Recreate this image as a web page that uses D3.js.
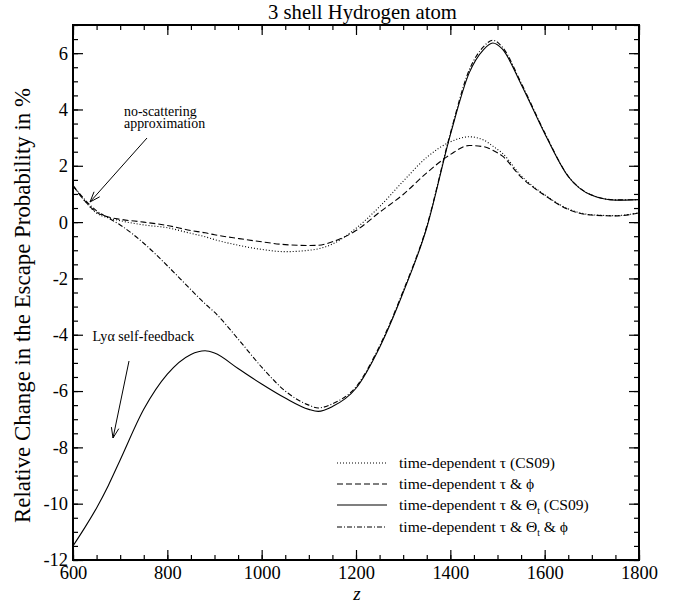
<!DOCTYPE html>
<html><head><meta charset="utf-8">
<script src="https://cdn.jsdelivr.net/npm/d3@7"></script>
<style>body{margin:0;background:#fff}</style>
</head><body>
<svg id="c" width="683" height="607"></svg>
<script>
const zGrid = [600,625,650,675,700,750,800,850,880,900,950,1000,1050,1100,1120,1150,1200,1250,1300,1350,1400,1440,1470,1490,1510,1550,1600,1650,1700,1750,1800];
const tauCS09 =      [1.3,0.75,0.32,0.15,0.05,-0.1,-0.2,-0.4,-0.52,-0.62,-0.82,-0.97,-1.05,-1.0,-0.95,-0.78,-0.22,0.55,1.45,2.3,2.85,3.03,2.92,2.7,2.45,1.65,0.97,0.47,0.26,0.23,0.33];
const tauPhi =       [1.3,0.75,0.35,0.18,0.1,0.0,-0.12,-0.3,-0.38,-0.45,-0.58,-0.7,-0.8,-0.83,-0.82,-0.7,-0.3,0.35,0.98,1.75,2.4,2.72,2.68,2.55,2.35,1.6,0.95,0.45,0.25,0.22,0.33];
const tauTheta =     [-11.5,-10.85,-10.15,-9.35,-8.45,-6.65,-5.4,-4.7,-4.57,-4.65,-5.2,-5.75,-6.25,-6.65,-6.72,-6.55,-5.9,-4.45,-2.5,-0.2,3.1,5.3,6.12,6.36,6.15,4.9,3.15,1.62,0.95,0.78,0.8];
const tauThetaPhi =  [1.3,0.8,0.4,0.15,-0.1,-0.75,-1.55,-2.4,-2.9,-3.2,-4.15,-5.15,-6.0,-6.5,-6.6,-6.45,-5.85,-4.4,-2.45,-0.15,3.15,5.4,6.22,6.46,6.22,4.95,3.18,1.63,0.96,0.79,0.8];

const legendLabels = ["time-dependent τ (CS09)","time-dependent τ & ϕ","time-dependent τ & Θ|t| (CS09)","time-dependent τ & Θ|t| & ϕ"];
const dashes = ["1,2","6,3",null,"5,2,1,2"];
const xTicks = [600,800,1000,1200,1400,1600,1800];
const yTicks = [-12,-10,-8,-6,-4,-2,0,2,4,6];
const titleText = "3 shell Hydrogen atom";
const yLabelText = "Relative Change in the Escape Probability in %";
const noteScatter = ["no-scattering","approximation"];
const noteFeedback = "Lyα self-feedback";

const FONT = '"Liberation Serif","Times New Roman",serif';
const series = [tauCS09, tauPhi, tauTheta, tauThetaPhi];
const svg = d3.select("#c");
const L=73, R=639, T=25, B=560;
const x = d3.scaleLinear().domain([600,1800]).range([L,R]);
const y = d3.scaleLinear().domain([-12,7]).range([B,T]);

function fit(sel, target){
  const w = sel.node().getComputedTextLength();
  const s = parseFloat(sel.style("font-size"));
  sel.style("font-size", (s*target/w).toFixed(2)+"px");
  return s*target/w;
}

svg.append("clipPath").attr("id","cp").append("rect").attr("x",L).attr("y",T).attr("width",R-L).attr("height",B-T);
const line = d3.line().x((d,i)=>x(zGrid[i])).y(d=>y(d)).curve(d3.curveMonotoneX);
series.forEach((s,k)=>{
  svg.append("path").attr("d",line(s)).attr("fill","none").attr("stroke","#000")
    .attr("stroke-width",1.1).attr("stroke-dasharray",dashes[k]).attr("clip-path","url(#cp)");
});

const xMinor = d3.range(600,1801,50), yMinor = d3.range(-12,7.01,0.5);
const fmt = d => String(d);
function addAxis(axisGen, tf, labels){
  const g = svg.append("g").attr("transform",tf).call(axisGen);
  g.select(".domain").remove();
  g.attr("font-family",FONT).attr("font-size",null);
  if(!labels) g.selectAll("text").remove();
  return g;
}
const bottom = addAxis(d3.axisBottom(x).tickValues(xTicks).tickSize(-10).tickPadding(6).tickFormat(fmt), `translate(0,${B})`, true);
addAxis(d3.axisBottom(x).tickValues(xMinor).tickSize(-5).tickFormat(""), `translate(0,${B})`);
addAxis(d3.axisTop(x).tickValues(xTicks).tickSize(-10).tickFormat(""), `translate(0,${T})`);
addAxis(d3.axisTop(x).tickValues(xMinor).tickSize(-5).tickFormat(""), `translate(0,${T})`);
const left = addAxis(d3.axisLeft(y).tickValues(yTicks).tickSize(-10).tickPadding(5).tickFormat(fmt), `translate(${L},0)`, true);
addAxis(d3.axisLeft(y).tickValues(yMinor).tickSize(-5).tickFormat(""), `translate(${L},0)`);
addAxis(d3.axisRight(y).tickValues(yTicks).tickSize(-10).tickFormat(""), `translate(${R},0)`);
addAxis(d3.axisRight(y).tickValues(yMinor).tickSize(-5).tickFormat(""), `translate(${R},0)`);
svg.selectAll(".tick text").style("font-family",FONT).style("font-size","18px").attr("fill","#000");
const tsz = fit(bottom.selectAll(".tick text").filter(d=>d===800), 27.7);
svg.selectAll(".tick text").style("font-size",tsz.toFixed(2)+"px");
svg.selectAll(".tick line").attr("stroke","#000").attr("stroke-width",1.2);
svg.append("rect").attr("x",L).attr("y",T).attr("width",R-L).attr("height",B-T).attr("fill","none").attr("stroke","#000").attr("stroke-width",2);

const title = svg.append("text").attr("x",362.5).attr("y",18.5).attr("text-anchor","middle").style("font-family",FONT).style("font-size","18px").text(titleText);
fit(title,189);
const yl = svg.append("text").attr("transform",`translate(30,305.5) rotate(-90)`).attr("text-anchor","middle").style("font-family",FONT).style("font-size","18px").text(yLabelText);
fit(yl,435);
svg.append("text").attr("x",357).attr("y",600).attr("text-anchor","middle").style("font-family",FONT).style("font-size","19px").style("font-style","italic").text("z");

const lg = svg.append("g");
let legSize = null;
legendLabels.forEach((lab,i)=>{
  const yy = [463,484,505,527][i];
  lg.append("line").attr("x1",337).attr("x2",387).attr("y1",yy).attr("y2",yy).attr("stroke","#000").attr("stroke-width",1.1).attr("stroke-dasharray",dashes[i]);
  const t = lg.append("text").attr("x",399).attr("y",yy+4.5).style("font-family",FONT).style("font-size","14px");
  lab.split("|").forEach((part,j)=>{
    const ts = t.append("tspan").text(part);
    if(j===1){ ts.attr("dy",4).style("font-size","9.5px"); }
    if(j===2){ ts.attr("dy",-4); }
  });
  if(i===0) legSize = fit(t,156);
  else t.style("font-size",legSize.toFixed(2)+"px");
});

function arrow(x1,y1,x2,y2){
  svg.append("line").attr("x1",x1).attr("y1",y1).attr("x2",x2).attr("y2",y2).attr("stroke","#000").attr("stroke-width",1);
  const a = Math.atan2(y2-y1,x2-x1), h=11, w=0.35;
  const p = d3.path();
  p.moveTo(x2-h*Math.cos(a-w), y2-h*Math.sin(a-w)); p.lineTo(x2,y2); p.lineTo(x2-h*Math.cos(a+w), y2-h*Math.sin(a+w));
  svg.append("path").attr("d",p.toString()).attr("fill","none").attr("stroke","#000").attr("stroke-width",1);
}
const a1 = svg.append("text").attr("x",124).attr("y",115.7).style("font-family",FONT).style("font-size","13px");
noteScatter.forEach((s,i)=>{ a1.append("tspan").attr("x",124).attr("dy", i===0?0:12.6).text(s); });
{
  const w = a1.select("tspan").node().getComputedTextLength();
  a1.style("font-size",(13*72.7/w).toFixed(2)+"px");
}
arrow(147,138,90,202);
const a3 = svg.append("text").attr("x",92.5).attr("y",340.5).style("font-family",FONT).style("font-size","13px").text(noteFeedback);
fit(a3,101.7);
arrow(129,361,113,438);
</script>
</body></html>
